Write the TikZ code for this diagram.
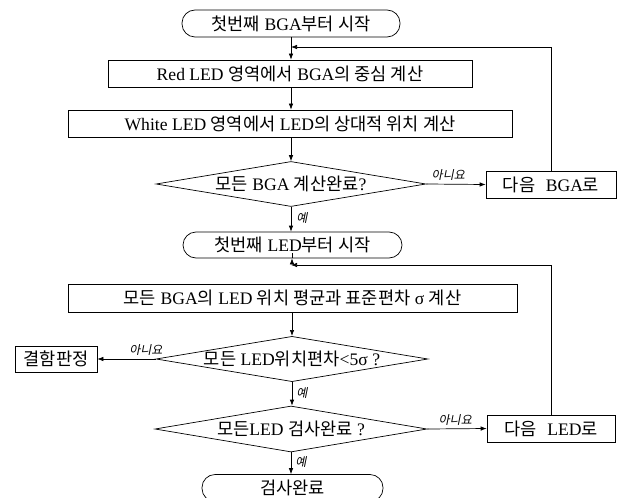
\documentclass[tikz,border=0pt]{standalone}
\usepackage{fontspec}
\setmainfont{Liberation Serif}
\newfontfamily\kr{Noto Sans CJK KR}
\newfontfamily\krit[FakeSlant=0.2]{Noto Sans CJK KR}
\newcommand{\K}[1]{{\kr #1}}
\usetikzlibrary{arrows.meta,shapes.geometric}
\tikzset{
  base/.style={draw=black, line width=0.7pt, inner sep=0pt, font=\fontsize{17.6}{19}\selectfont},
  procbox/.style={base, rectangle},
  termbox/.style={base, rectangle, rounded corners=13pt},
  decbox/.style={base, diamond, aspect=6},
  arr/.style={draw=black, line width=0.7pt, -{Latex[length=6pt,width=4.5pt]}},
  lbl/.style={font=\krit\fontsize{12}{13}\selectfont, inner sep=0pt}
}
\begin{document}
\begin{tikzpicture}[x=1pt,y=-1pt]
\useasboundingbox (0,0) rectangle (617,497);
\clip (0,0) rectangle (617,497);
\node[termbox, minimum width=218pt, minimum height=27pt] (s1) at (291,23.5) {\K{첫번째} BGA\K{부터 시작}};
\node[procbox, minimum width=364pt, minimum height=27pt] (b1) at (290,73.5) {Red LED \K{영역에서} BGA\K{의 중심 계산}};
\node[procbox, minimum width=444pt, minimum height=27pt] (b2) at (290,123.5) {White LED \K{영역에서} LED\K{의 상대적 위치 계산}};
\node[decbox, minimum width=270pt, minimum height=45pt] (d1) at (291,184) {\K{모든} BGA \K{계산완료}?};
\node[procbox, minimum width=130pt, minimum height=27pt] (n1) at (551,184.5) {\K{다음}\hspace{0.6em}BGA\K{로}};
\node[termbox, minimum width=219pt, minimum height=26pt] (s2) at (292.5,245) {\K{첫번째} LED\K{부터 시작}};
\node[procbox, minimum width=449pt, minimum height=28pt] (b3) at (292.5,298) {\K{모든} BGA\K{의} LED \K{위치 평균과 표준편차} σ \K{계산}};
\node[decbox, minimum width=271pt, minimum height=44pt] (d2) at (292,359) {\K{모든} LED\K{위치편차}<5σ ?};
\node[procbox, minimum width=82pt, minimum height=26pt] (e1) at (56,359) {\K{결함판정}};
\node[decbox, minimum width=272pt, minimum height=46pt] (d3) at (291,429) {\K{모든}LED \K{검사완료} ?};
\node[procbox, minimum width=128pt, minimum height=27pt] (n2) at (551,428.5) {\K{다음}\hspace{0.6em}LED\K{로}};
\node[termbox, minimum width=181pt, minimum height=27pt] (s3) at (292.5,488) {\K{검사완료}};
\coordinate (j1) at (291,47);
\coordinate (j2) at (291,265);
% connectors
\draw[arr] (s1.south) -- (s1.south |- b1.north);
\draw[arr] (s1.south |- b1.south) -- (s1.south |- b2.north);
\draw[arr] (s1.south |- b2.south) -- (d1.north);
\draw[arr] (d1.south) -- (d1.south |- s2.north) node[lbl, pos=0.45, right=5pt] {예};
\draw[arr] (d1.east) -- (n1.west) node[lbl, pos=0.37, above=3pt] {아니요};
\draw[arr] (n1.north) |- (j1);
\draw[arr] (s2.south -| d2.north) -- (s2.south -| d2.north |- b3.north);
\draw[arr] (b3.south -| d2.north) -- (d2.north);
\draw[arr] (d2.west) -- (e1.east) node[lbl, pos=0.17, above=3pt] {아니요};
\draw[arr] (d2.south) -- (d2.south |- d3.north) node[lbl, pos=0.45, right=4pt] {예};
\draw[arr] (d3.south) -- (d3.south |- s3.north) node[lbl, pos=0.45, right=4pt] {예};
\draw[arr] (d3.east) -- (n2.west) node[lbl, pos=0.47, above=3pt] {아니요};
\draw[arr] (n2.north) |- (j2);
\end{tikzpicture}
\end{document}
